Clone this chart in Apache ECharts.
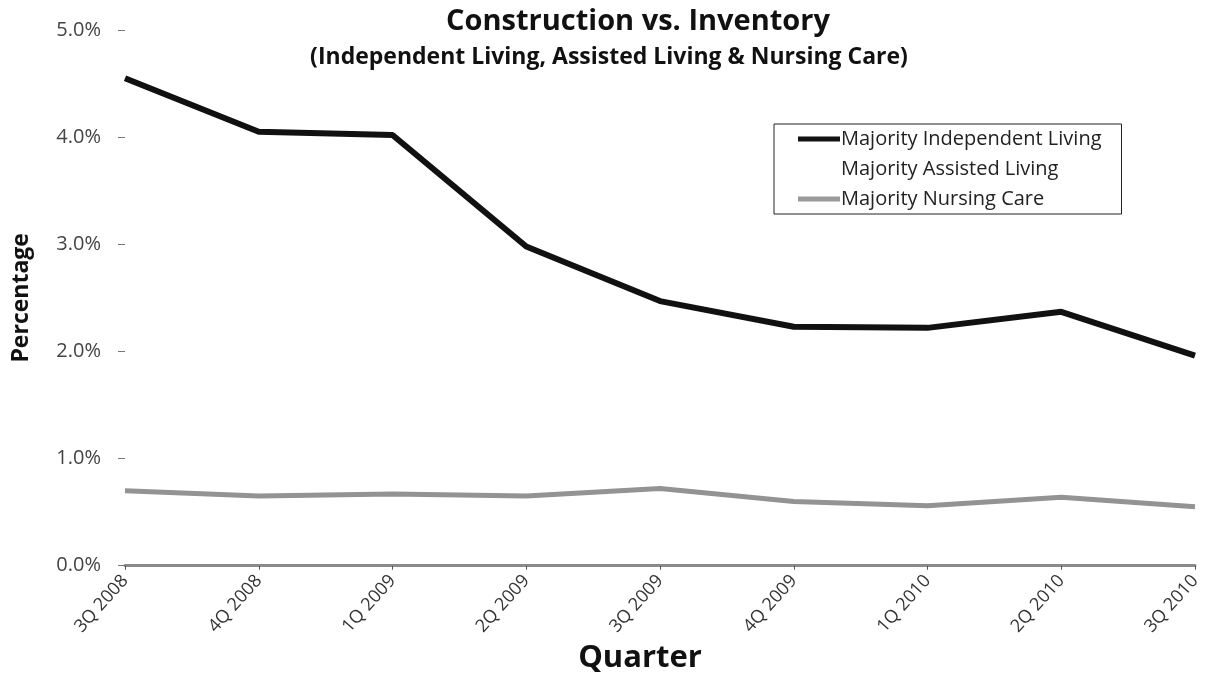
<!DOCTYPE html>
<html lang="en">
<head>
    <meta charset="UTF-8">
    <title>Construction vs. Inventory</title>
    <style>
        html, body { margin: 0; padding: 0; background: #fff; }
        #chartBox { width: 1209px; height: 679px; }
    </style>
</head>
<body>
<div id="chartBox"></div>
<script type="text/javascript" src="https://cdn.jsdelivr.net/npm/echarts@6/dist/echarts.min.js"></script>
<script type="text/javascript">
    // quarters on the x axis
    var quarters = ["3Q 2008", "4Q 2008", "1Q 2009", "2Q 2009", "3Q 2009", "4Q 2009", "1Q 2010", "2Q 2010", "3Q 2010"];
    // percentages
    var independentLiving = [4.55, 4.05, 4.02, 2.98, 2.47, 2.23, 2.22, 2.37, 1.96];
    // this line is not visible in the picture (drawn in white)
    var assistedLiving = [null, null, null, null, null, null, null, null, null];
    var nursingCare = [0.70, 0.65, 0.67, 0.65, 0.72, 0.60, 0.56, 0.64, 0.55];
    var yTicks = [0, 1, 2, 3, 4, 5];

    var fontName = "'Open Sans', sans-serif";
    var myChart = echarts.init(document.getElementById("chartBox"));

    myChart.setOption({
        animation: false,
        title: [{
            text: 'Construction vs. Inventory',
            left: 633,
            textAlign: 'center',
            top: 2,
            textStyle: { fontFamily: fontName, fontSize: 29, fontWeight: 'bold', color: '#111' }
        }, {
            text: '(Independent Living, Assisted Living & Nursing Care)',
            left: 604,
            textAlign: 'center',
            top: 41,
            textStyle: { fontFamily: fontName, fontSize: 23, fontWeight: 'bold', color: '#111' }
        }],
        legend: {
            orient: 'vertical',
            left: 774,
            top: 124,
            padding: [5, 20, 5, 24],
            itemGap: 10,
            itemWidth: 42,
            itemHeight: 5,
            borderColor: '#222',
            borderWidth: 1,
            icon: 'rect',
            textStyle: { fontFamily: fontName, fontSize: 20, color: '#222', padding: [0, 0, 0, -4] },
            data: ['Majority Independent Living', 'Majority Assisted Living', 'Majority Nursing Care']
        },
        grid: {
            left: 125,
            right: 14,
            top: 30,
            bottom: 112,
            containLabel: false
        },
        xAxis: {
            type: 'category',
            data: quarters,
            boundaryGap: false,
            name: 'Quarter',
            nameLocation: 'middle',
            nameGap: 76,
            nameTextStyle: { fontFamily: fontName, fontSize: 31, fontWeight: 'bold', color: '#111', padding: [0, 40, 0, 0] },
            axisLine: { lineStyle: { color: '#8a8a8a', width: 3 } },
            axisTick: { length: 4, lineStyle: { color: '#555' } },
            axisLabel: {
                rotate: 48,
                margin: 12,
                fontFamily: fontName,
                fontSize: 18,
                color: '#333'
            }
        },
        yAxis: {
            type: 'value',
            min: yTicks[0],
            max: yTicks[yTicks.length - 1],
            interval: 1,
            name: 'Percentage',
            nameLocation: 'middle',
            nameGap: 92,
            nameTextStyle: { fontFamily: fontName, fontSize: 23, fontWeight: 'bold', color: '#111' },
            axisLine: { show: false },
            axisTick: { show: true, length: 7, lineStyle: { color: '#777' } },
            splitLine: { show: false },
            axisLabel: {
                margin: 24,
                fontFamily: fontName,
                fontSize: 20,
                color: '#444',
                formatter: function (v) { return v.toFixed(1) + '%'; }
            }
        },
        series: [{
            name: 'Majority Independent Living',
            type: 'line',
            data: independentLiving,
            symbol: 'none',
            color: '#111',
            lineStyle: { color: '#111', width: 6 },
            z: 3
        }, {
            name: 'Majority Assisted Living',
            type: 'line',
            data: assistedLiving,
            symbol: 'none',
            color: '#ffffff',
            lineStyle: { color: '#ffffff', width: 3 },
            z: 1
        }, {
            name: 'Majority Nursing Care',
            type: 'line',
            data: nursingCare,
            symbol: 'none',
            color: '#9a9a9a',
            lineStyle: { color: '#939393', width: 5 },
            z: 2
        }]
    });
</script>
</body>
</html>
